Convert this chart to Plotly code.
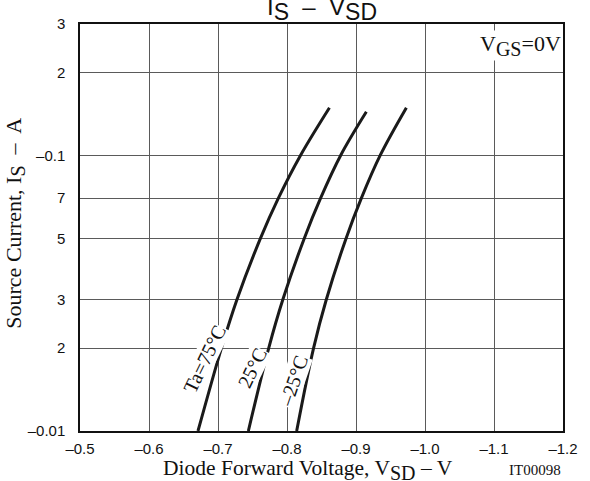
import math
import plotly.graph_objects as go

# Source current magnitude (A) and diode forward voltage (V) per ambient temperature
i_75 = [0.01, 0.02, 0.03, 0.05, 0.07, 0.1, 0.149]
v_75 = [-0.671, -0.705, -0.7275, -0.7615, -0.7875, -0.8195, -0.8615]

i_25 = [0.01, 0.02, 0.03, 0.05, 0.07, 0.1, 0.144]
v_25 = [-0.744, -0.7735, -0.794, -0.825, -0.8487, -0.8777, -0.915]

i_m25 = [0.01, 0.02, 0.03, 0.05, 0.07, 0.1, 0.149]
v_m25 = [-0.814, -0.8385, -0.857, -0.8856, -0.9078, -0.935, -0.973]

x_tickvals = [-0.5, -0.6, -0.7, -0.8, -0.9, -1.0, -1.1, -1.2]
x_ticktext = ["–0.5", "–0.6", "–0.7", "–0.8", "–0.9", "–1.0", "–1.1", "–1.2"]
y_tickvals = [0.01, 0.02, 0.03, 0.05, 0.07, 0.1, 0.2, 0.3]
y_ticktext = ["–0.01", "2", "3", "5", "7", "–0.1", "2", "3"]

curve_labels = ["Ta=75°C", "25°C", "–25°C"]

SANS = "Liberation Sans, Arial, sans-serif"
SERIF = "Liberation Serif, Times New Roman, serif"
GRID = "#5a5a5a"


def sub(s, size):
    """Subscript kept close to the body size, as on datasheet artwork."""
    return f"<sub><span style='font-size:{size}px'>{s}</span></sub>"


fig = go.Figure()
for xs, ys in [(v_75, i_75), (v_25, i_25), (v_m25, i_m25)]:
    fig.add_trace(go.Scatter(
        x=xs, y=ys, mode="lines",
        line=dict(color="#1a1a1a", width=3, shape="spline", smoothing=1.0),
        showlegend=False, hoverinfo="skip",
    ))

# temperature labels set along the left side of each curve
label_pos = [(-0.680, 0.0183), (-0.749, 0.0170), (-0.809, 0.0152)]
label_angle = [-64, -64, -71]
for text, (lx, ly), ang in zip(curve_labels, label_pos, label_angle):
    fig.add_annotation(
        x=lx, y=math.log10(ly), xref="x", yref="y", text=text,
        showarrow=False, textangle=ang, bgcolor="white", borderpad=0,
        font=dict(family=SERIF, size=20, color="#111"),
    )

fig.add_annotation(
    x=0.993, y=0.985, xref="paper", yref="paper", xanchor="right", yanchor="top",
    xshift=2, text="V" + sub("GS", 20) + "=0V", showarrow=False,
    bgcolor="white", borderpad=0,
    font=dict(family=SERIF, size=22, color="#111"),
)

fig.add_annotation(
    x=0.5, y=1.0, xref="paper", yref="paper", xanchor="center", yanchor="bottom",
    yshift=-3, text="I" + sub("S", 23) + "  –  V" + sub("SD", 23), showarrow=False,
    font=dict(family=SANS, size=24, color="#111"),
)

fig.add_annotation(
    x=0.4715, y=-0.094, xref="paper", yref="paper", xanchor="center", yanchor="middle",
    yshift=-1, text="Diode Forward Voltage, V" + sub("SD", 20) + " – V", showarrow=False,
    font=dict(family=SERIF, size=21.5, color="#111"),
)

fig.add_annotation(
    x=-0.134, y=0.51, xref="paper", yref="paper", xanchor="center", yanchor="middle",
    text="Source Current, I" + sub("S", 20) + "  –  A", textangle=-90, showarrow=False,
    font=dict(family=SERIF, size=22, color="#111"),
)

fig.add_annotation(
    x=0.942, y=-0.095, xref="paper", yref="paper", xanchor="center", yanchor="middle",
    text="IT00098", showarrow=False,
    font=dict(family=SERIF, size=15, color="#111"),
)

fig.update_xaxes(
    range=[-0.5, -1.2], tickvals=x_tickvals, ticktext=x_ticktext,
    showgrid=True, gridcolor=GRID, gridwidth=1, zeroline=False,
    showline=True, mirror=True, linecolor="#111", linewidth=1.5,
    ticks="", ticklabelstandoff=3,
    tickfont=dict(family=SANS, size=15, color="#111"),
)
fig.update_yaxes(
    type="log", range=[-2, math.log10(0.3)], tickvals=y_tickvals, ticktext=y_ticktext,
    showgrid=True, gridcolor=GRID, gridwidth=1, zeroline=False,
    showline=True, mirror=True, linecolor="#111", linewidth=1.5,
    ticks="", ticklabelstandoff=10,
    tickfont=dict(family=SANS, size=15, color="#111"),
)

fig.update_layout(
    width=590, height=481,
    margin=dict(l=80, r=18, t=24, b=50),
    paper_bgcolor="white", plot_bgcolor="white",
)

fig.write_html("out.html")
